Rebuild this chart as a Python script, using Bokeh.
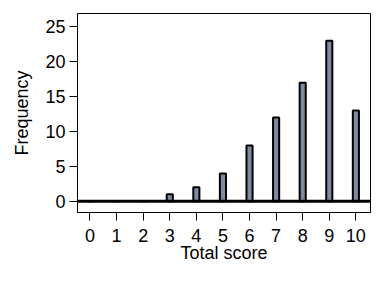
from bokeh.plotting import figure
from bokeh.models import Span, FixedTicker, Range1d
from bokeh.embed import file_html
from bokeh.resources import INLINE

scores = [0, 1, 2, 3, 4, 5, 6, 7, 8, 9, 10]
frequency = [0, 0, 0, 1, 2, 4, 8, 12, 17, 23, 13]
y_ticks = [0, 5, 10, 15, 20, 25]

p = figure(width=384, height=281, output_backend="svg", toolbar_location=None,
           x_range=Range1d(-0.47, 10.55), y_range=Range1d(-1.6, 26.9),
           frame_width=293, frame_height=199,
           min_border_left=77, min_border_right=14, min_border_top=13, min_border_bottom=69)
p.background_fill_color = "white"
p.border_fill_color = "white"
p.outline_line_color = "black"
p.outline_line_width = 1
p.xgrid.visible = False
p.ygrid.visible = False

p.vbar(x=scores, top=frequency, bottom=0, width=0.23,
       fill_color="#7a8ca2", line_color="black", line_width=2)

p.add_layout(Span(location=0, dimension="width", line_color="black", line_width=3))

font = "Liberation Sans"
for ax in (p.xaxis[0], p.yaxis[0]):
    ax.major_label_text_font = font
    ax.major_label_text_font_size = "18px"
    ax.major_label_text_color = "black"
    ax.axis_label_text_font = font
    ax.axis_label_text_font_size = "18px"
    ax.axis_label_text_font_style = "normal"
    ax.axis_label_text_color = "black"
    ax.axis_line_color = "black"
    ax.major_tick_line_color = "black"
    ax.major_tick_out = 8
    ax.major_tick_in = 0
    ax.minor_tick_line_color = None

p.xaxis.ticker = FixedTicker(ticks=scores)
p.yaxis.ticker = FixedTicker(ticks=y_ticks)
p.xaxis.axis_label = "Total score"
p.yaxis.axis_label = "Frequency"
p.xaxis.major_label_standoff = 8
p.xaxis.axis_label_standoff = -2
p.yaxis.major_label_standoff = 4
p.yaxis.axis_label_standoff = 10

open("out.html", "w").write(file_html(p, INLINE))
